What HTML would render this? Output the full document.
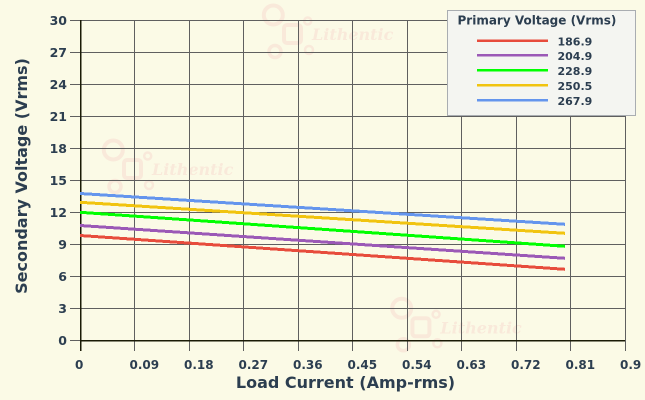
<!DOCTYPE html>
<html><head><meta charset="utf-8"><style>
html,body{margin:0;padding:0;background:#fbfae6;}
svg{display:block;}
text{font-family:"DejaVu Sans","Liberation Sans",sans-serif;font-weight:bold;fill:#2c3e50;}
</style></head><body>
<svg width="645" height="400" viewBox="0 0 645 400" xmlns="http://www.w3.org/2000/svg">
<rect width="645" height="400" fill="#fbfae6"/>
<defs>
<g id="wm" fill="none" stroke="#f9e9da" stroke-width="4">
  <circle cx="273.3" cy="15" r="9.5"/>
  <rect x="284" y="25" width="17" height="18" rx="3"/>
  <circle cx="307.7" cy="21" r="3.5" stroke-width="2.5"/>
  <circle cx="275" cy="51.5" r="6" stroke-width="3.5"/>
  <circle cx="309" cy="50" r="4" stroke-width="2.5"/>
  <text x="312" y="40" stroke="none" style="font-family:'DejaVu Serif','Liberation Serif',serif;font-style:italic;font-weight:bold;font-size:16px;fill:#f9e9da">Lithentic</text>
</g>
</defs>
<use href="#wm"/>
<use href="#wm" transform="translate(-160,135)"/>
<use href="#wm" transform="translate(128.4,293.3)"/>

<g stroke="#5f5f5f" stroke-width="1.2" shape-rendering="crispEdges">
  <line x1="70" y1="20.5" x2="625" y2="20.5"/>
  <line x1="70" y1="52.5" x2="625" y2="52.5"/>
  <line x1="70" y1="84.5" x2="625" y2="84.5"/>
  <line x1="70" y1="116.5" x2="625" y2="116.5"/>
  <line x1="70" y1="148.5" x2="625" y2="148.5"/>
  <line x1="70" y1="180.5" x2="625" y2="180.5"/>
  <line x1="70" y1="212.5" x2="625" y2="212.5"/>
  <line x1="70" y1="244.5" x2="625" y2="244.5"/>
  <line x1="70" y1="276.5" x2="625" y2="276.5"/>
  <line x1="70" y1="308.5" x2="625" y2="308.5"/>
  <line x1="70" y1="340.5" x2="80" y2="340.5"/>
  <line x1="134.5" y1="20" x2="134.5" y2="351"/>
  <line x1="189.5" y1="20" x2="189.5" y2="351"/>
  <line x1="243.5" y1="20" x2="243.5" y2="351"/>
  <line x1="298.5" y1="20" x2="298.5" y2="351"/>
  <line x1="352.5" y1="20" x2="352.5" y2="351"/>
  <line x1="407.5" y1="20" x2="407.5" y2="351"/>
  <line x1="461.5" y1="20" x2="461.5" y2="351"/>
  <line x1="516.5" y1="20" x2="516.5" y2="351"/>
  <line x1="570.5" y1="20" x2="570.5" y2="351"/>
  <line x1="625.5" y1="20" x2="625.5" y2="351"/>
</g>
<g stroke="#1a1a05" stroke-width="1.5" shape-rendering="crispEdges">
  <line x1="80.5" y1="20" x2="80.5" y2="351"/>
  <line x1="80" y1="340.5" x2="625" y2="340.5"/>
</g>

<g stroke-width="3" fill="none" shape-rendering="crispEdges">
  <line x1="80" y1="235.5" x2="565" y2="269.3" stroke="#e74c3c"/>
  <line x1="80" y1="225.5" x2="565" y2="258.3" stroke="#9b59b6"/>
  <line x1="80" y1="212.3" x2="565" y2="246.3" stroke="#00ff00"/>
  <line x1="80" y1="202.3" x2="565" y2="233.3" stroke="#f1c40f"/>
  <line x1="80" y1="193.5" x2="565" y2="224.3" stroke="#6495ed"/>
</g>

<g font-size="12.5" text-anchor="end">
  <text x="67" y="25">30</text>
  <text x="67" y="57">27</text>
  <text x="67" y="89">24</text>
  <text x="67" y="121">21</text>
  <text x="67" y="153">18</text>
  <text x="67" y="185">15</text>
  <text x="67" y="217">12</text>
  <text x="67" y="249">9</text>
  <text x="67" y="281">6</text>
  <text x="67" y="313">3</text>
  <text x="67" y="345">0</text>
</g>
<g font-size="12">
  <text x="75" y="369">0</text>
  <text x="129.5" y="369">0.09</text>
  <text x="184" y="369">0.18</text>
  <text x="238.5" y="369">0.27</text>
  <text x="293" y="369">0.36</text>
  <text x="347.5" y="369">0.45</text>
  <text x="402" y="369">0.54</text>
  <text x="456.5" y="369">0.63</text>
  <text x="511" y="369">0.72</text>
  <text x="565.5" y="369">0.81</text>
  <text x="620" y="369">0.9</text>
</g>
<text x="345.5" y="388" font-size="16" text-anchor="middle">Load Current (Amp-rms)</text>
<text transform="translate(27,176) rotate(-90)" font-size="16" text-anchor="middle">Secondary Voltage (Vrms)</text>

<rect x="447.5" y="10.5" width="188" height="105" fill="#f4f5f1" stroke="#a9adb1" stroke-width="1"/>
<text x="457.5" y="24.5" font-size="12">Primary Voltage (Vrms)</text>
<g stroke-width="2.5">
  <line x1="477" y1="40.7" x2="548" y2="40.7" stroke="#e74c3c"/>
  <line x1="477" y1="55.3" x2="548" y2="55.3" stroke="#9b59b6"/>
  <line x1="477" y1="70.3" x2="548" y2="70.3" stroke="#00ff00"/>
  <line x1="477" y1="85.3" x2="548" y2="85.3" stroke="#f1c40f"/>
  <line x1="477" y1="100.3" x2="548" y2="100.3" stroke="#6495ed"/>
</g>
<g font-size="11">
  <text x="557.5" y="45.3">186.9</text>
  <text x="557.5" y="60">204.9</text>
  <text x="557.5" y="75">228.9</text>
  <text x="557.5" y="90">250.5</text>
  <text x="557.5" y="105">267.9</text>
</g>
</svg>
</body></html>
